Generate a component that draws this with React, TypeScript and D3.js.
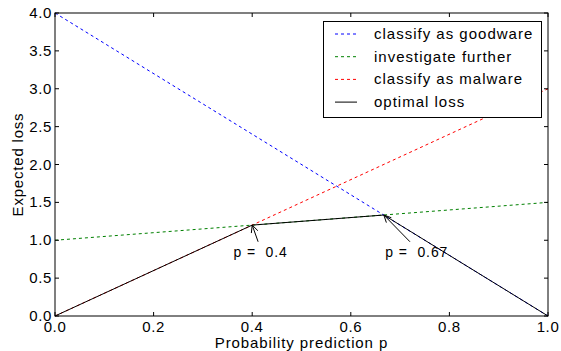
import * as d3 from "d3";

const pEnds = [0, 1];
const goodware = [4.0, 0.0];
const investigate = [1.0, 1.5];
const malware = [0.0, 3.0];
const optimalP = [0, 0.4, 0.667, 1];
const optimalLoss = [0, 1.2, 1.333, 0];
const xTicks = [0, 0.2, 0.4, 0.6, 0.8, 1.0];
const yTicks = [0, 0.5, 1.0, 1.5, 2.0, 2.5, 3.0, 3.5, 4.0];

const series = [
  { label: "classify as goodware", color: "#0000ff", dash: "3,3", xs: pEnds, ys: goodware },
  { label: "investigate further", color: "#008000", dash: "3,3", xs: pEnds, ys: investigate },
  { label: "classify as malware", color: "#ff0000", dash: "3,3", xs: pEnds, ys: malware },
  { label: "optimal loss", color: "#000000", dash: null, xs: optimalP, ys: optimalLoss },
];

// text position and arrow tail in data coordinates
const annotations = [
  { label: "p =  0.4", p: 0.4, loss: 1.2, textP: 0.362, textLoss: 0.78, tailP: 0.412, tailLoss: 0.98 },
  { label: "p =  0.67", p: 0.667, loss: 1.333, textP: 0.67, textLoss: 0.78, tailP: 0.72, tailLoss: 0.98 },
];

const W = 561;
const H = 351;
const m = { left: 55, right: 13, top: 13, bottom: 35 };

export default function App() {
  const x = d3.scaleLinear().domain([0, 1]).range([m.left, W - m.right]);
  const y = d3.scaleLinear().domain([0, 4]).range([H - m.bottom, m.top]);
  const line = (xs: number[], ys: number[]) =>
    d3.line<number>().x((_, i) => x(xs[i])).y((d) => y(d))(ys) || "";

  const font = "'Liberation Sans', Arial, sans-serif";
  const tickLen = 4;

  return (
    <svg
      width={W}
      height={H}
      style={{ position: "absolute", left: 0, top: 0, background: "#fff" }}
      fontFamily={font}
    >
      {series.map((s) => (
        <path
          key={s.label}
          d={line(s.xs, s.ys)}
          fill="none"
          stroke={s.color}
          strokeWidth={1}
          strokeDasharray={s.dash || undefined}
        />
      ))}

      {/* frame */}
      <rect
        x={m.left}
        y={m.top}
        width={W - m.left - m.right}
        height={H - m.top - m.bottom}
        fill="none"
        stroke="#000"
        strokeWidth={1}
      />

      {/* x ticks */}
      {xTicks.map((t) => (
        <g key={"x" + t}>
          <line x1={x(t)} x2={x(t)} y1={y(0)} y2={y(0) - tickLen} stroke="#000" />
          <line x1={x(t)} x2={x(t)} y1={y(4)} y2={y(4) + tickLen} stroke="#000" />
          <text x={x(t)} y={y(0) + 16} textAnchor="middle" fontSize={15} letterSpacing={0.6}>
            {t.toFixed(1)}
          </text>
        </g>
      ))}

      {/* y ticks */}
      {yTicks.map((t) => (
        <g key={"y" + t}>
          <line x1={x(0)} x2={x(0) + tickLen} y1={y(t)} y2={y(t)} stroke="#000" />
          <line x1={x(1)} x2={x(1) - tickLen} y1={y(t)} y2={y(t)} stroke="#000" />
          <text x={x(0) - 3} y={y(t) + 5} textAnchor="end" fontSize={15} letterSpacing={0.6}>
            {t.toFixed(1)}
          </text>
        </g>
      ))}

      <text
        x={(x(0) + x(1)) / 2}
        y={H - 3}
        textAnchor="middle"
        fontSize={15}
        letterSpacing={0.9}
      >
        Probability prediction p
      </text>
      <text
        transform={`translate(23,${(y(0) + y(4)) / 2}) rotate(-90)`}
        textAnchor="middle"
        fontSize={15}
        letterSpacing={0.8}
      >
        Expected loss
      </text>

      {/* annotations */}
      {annotations.map((a) => {
        const tx = x(a.p);
        const ty = y(a.loss);
        const sx = x(a.tailP);
        const sy = y(a.tailLoss);
        const ang = Math.atan2(sy - ty, sx - tx);
        const hl = 8;
        const spread = 0.45;
        const h1 = [tx + hl * Math.cos(ang - spread), ty + hl * Math.sin(ang - spread)];
        const h2 = [tx + hl * Math.cos(ang + spread), ty + hl * Math.sin(ang + spread)];
        return (
          <g key={a.label}>
            <line x1={sx} y1={sy} x2={tx} y2={ty} stroke="#000" strokeWidth={1} />
            <path
              d={`M${h1[0]},${h1[1]}L${tx},${ty}L${h2[0]},${h2[1]}`}
              fill="none"
              stroke="#000"
              strokeWidth={1}
            />
            <text
              x={x(a.textP)}
              y={y(a.textLoss)}
              fontSize={14}
              letterSpacing={0.9}
              style={{ whiteSpace: "pre" }}
            >
              {a.label}
            </text>
          </g>
        );
      })}

      {/* legend */}
      <g>
        <rect x={323.5} y={21.5} width={218} height={96} fill="#fff" stroke="#000" />
        {series.map((s, i) => (
          <g key={"l" + s.label} transform={`translate(335,${34 + i * 22.7})`}>
            <line
              x1={0}
              x2={22}
              y1={0}
              y2={0}
              stroke={s.color}
              strokeDasharray={s.dash || undefined}
            />
            <text x={39} y={5} fontSize={15} letterSpacing={1}>
              {s.label}
            </text>
          </g>
        ))}
      </g>
    </svg>
  );
}
